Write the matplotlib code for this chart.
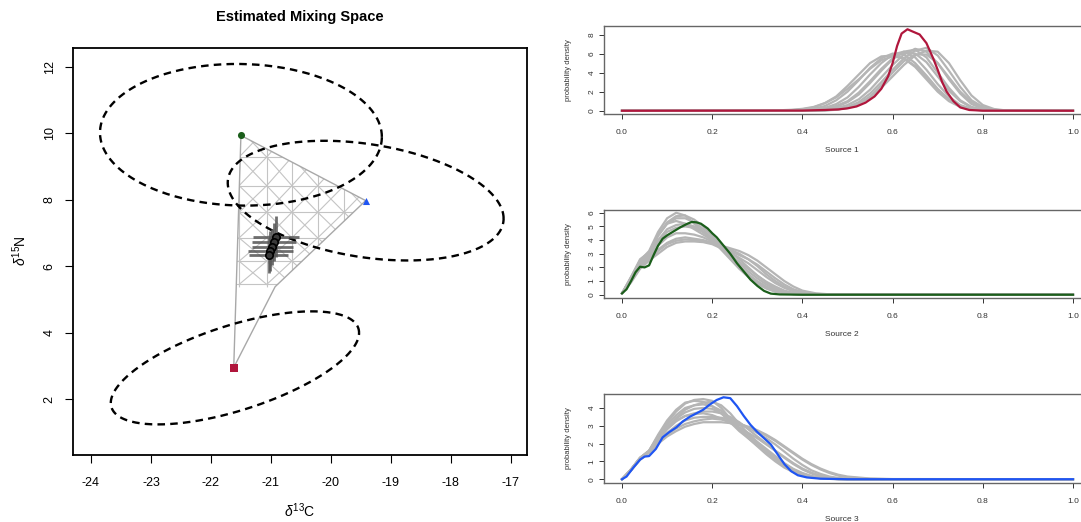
import numpy as np
import matplotlib
matplotlib.use('Agg')
import matplotlib.pyplot as plt
from matplotlib.patches import Polygon

plt.rcParams['font.family'] = ['Liberation Sans', 'DejaVu Sans']
plt.rcParams['mathtext.fontset'] = 'custom'
plt.rcParams['mathtext.rm'] = 'Liberation Sans'
plt.rcParams['mathtext.it'] = 'Liberation Sans:italic'
plt.rcParams['axes.unicode_minus'] = False

# ---------------- Mixing space data ----------------
source_names = ['Source 1', 'Source 2', 'Source 3']
source_colors = ['#b0163c', '#1b5e1b', '#1f55f2']
source_markers = ['s', 'o', '^']
src_d13C = [-21.62, -21.50, -19.42]
src_d15N = [2.95, 9.93, 7.97]
# source ellipses (centre, half-widths, correlation)
ell_cx = [-21.60, -21.50, -19.42]
ell_cy = [2.94, 9.95, 7.97]
ell_sx = [2.07, 2.35, 2.30]
ell_sy = [1.70, 2.13, 1.80]
ell_rho = [0.62, -0.03, -0.30]

# outer hull of simulated mixing polygons
hull_d13C = [-21.50, -19.42, -20.93, -21.62]
hull_d15N = [9.93, 7.97, 5.38, 2.95]
# meshed region of simulated polygons
mesh_clip_d13C = [-21.50, -19.42, -20.93, -21.58]
mesh_clip_d15N = [9.93, 7.97, 5.36, 5.36]
mesh_rows = [9.28, 8.42, 7.62, 6.85, 6.15, 5.45]
mesh_cols = [-21.53, -21.07, -20.65, -20.22, -19.78, -19.35]

# consumers
cons_d13C = [-20.92, -20.95, -20.98, -21.01, -21.04]
cons_d15N = [6.88, 6.72, 6.58, 6.45, 6.32]
cons_sd13C = [0.38, 0.36, 0.34, 0.38, 0.32]
cons_sd15N = [0.62, 0.58, 0.55, 0.60, 0.52]

# ---------------- Density data ----------------
x_s1 = [0.0, 0.35, 0.375, 0.4, 0.425, 0.45, 0.475, 0.5, 0.525, 0.55, 0.575, 0.6,
        0.625, 0.65, 0.675, 0.7, 0.725, 0.75, 0.775, 0.8, 0.825, 0.85, 1.0]
gray_s1 = [
    [0, 0.02, 0.05, 0.15, 0.35, 0.8, 1.5, 2.6, 3.8, 5.0, 5.7, 5.8, 5.5, 4.6, 3.3, 2.0, 1.0, 0.4, 0.12, 0.03, 0.01, 0, 0],
    [0, 0, 0.02, 0.08, 0.2, 0.5, 1.1, 2.0, 3.2, 4.5, 5.5, 6.0, 5.9, 5.0, 3.7, 2.3, 1.2, 0.5, 0.15, 0.04, 0.01, 0, 0],
    [0, 0, 0.01, 0.04, 0.12, 0.3, 0.7, 1.4, 2.5, 3.8, 5.0, 5.9, 6.2, 5.6, 4.3, 2.8, 1.5, 0.6, 0.2, 0.05, 0.01, 0, 0],
    [0, 0, 0, 0.02, 0.06, 0.15, 0.4, 0.9, 1.7, 2.9, 4.2, 5.4, 6.2, 6.4, 5.6, 4.0, 2.4, 1.1, 0.4, 0.12, 0.03, 0, 0],
    [0, 0, 0, 0.01, 0.03, 0.08, 0.25, 0.6, 1.2, 2.2, 3.5, 4.8, 5.9, 6.5, 6.2, 5.0, 3.3, 1.8, 0.7, 0.22, 0.06, 0.01, 0],
    [0, 0, 0, 0, 0.02, 0.05, 0.15, 0.4, 0.9, 1.8, 3.0, 4.3, 5.5, 6.3, 6.6, 5.8, 4.2, 2.5, 1.1, 0.4, 0.1, 0.02, 0],
    [0, 0, 0, 0, 0.01, 0.03, 0.1, 0.3, 0.7, 1.4, 2.4, 3.6, 4.8, 5.8, 6.3, 6.2, 5.0, 3.2, 1.6, 0.6, 0.18, 0.04, 0],
    [0, 0, 0, 0.01, 0.02, 0.05, 0.12, 0.3, 0.7, 1.5, 2.7, 4.0, 5.2, 5.9, 5.9, 5.0, 3.5, 2.0, 0.9, 0.3, 0.08, 0.02, 0],
    [0, 0.05, 0.1, 0.2, 0.4, 0.8, 1.4, 2.3, 3.3, 4.4, 5.3, 5.7, 5.5, 4.7, 3.5, 2.2, 1.2, 0.5, 0.2, 0.06, 0.02, 0, 0],
    [0, 0, 0.01, 0.03, 0.08, 0.2, 0.5, 1.0, 1.9, 3.1, 4.4, 5.5, 6.1, 6.0, 5.1, 3.6, 2.1, 1.0, 0.35, 0.1, 0.03, 0, 0],
]
x_s1_post = [0.0, 0.40, 0.45, 0.48, 0.50, 0.52, 0.54, 0.56, 0.575, 0.59, 0.60, 0.61, 0.62,
             0.633, 0.645, 0.66, 0.675, 0.69, 0.70, 0.71, 0.72, 0.735, 0.75, 0.77, 0.80, 1.0]
y_s1_post = [0, 0.02, 0.08, 0.14, 0.25, 0.45, 0.85, 1.5, 2.3, 3.6, 5.0, 6.8, 8.1,
             8.55, 8.3, 8.0, 7.1, 5.5, 4.3, 3.0, 2.0, 1.0, 0.35, 0.08, 0.01, 0]

x_s2 = [0, 0.02, 0.04, 0.06, 0.08, 0.1, 0.12, 0.14, 0.16, 0.18, 0.2, 0.22, 0.24, 0.26,
        0.28, 0.3, 0.32, 0.34, 0.36, 0.38, 0.4, 0.43, 0.46, 0.5, 1.0]
gray_s2 = [
    [0.1, 1.3, 2.5, 3.2, 4.6, 5.6, 6.0, 5.8, 5.2, 4.6, 4.0, 3.3, 2.6, 1.9, 1.3, 0.8, 0.45, 0.22, 0.1, 0.04, 0.02, 0.01, 0, 0, 0],
    [0.1, 1.2, 2.4, 3.0, 4.3, 5.2, 5.6, 5.6, 5.3, 4.8, 4.1, 3.4, 2.7, 2.0, 1.4, 0.9, 0.5, 0.25, 0.12, 0.05, 0.02, 0.01, 0, 0, 0],
    [0.1, 1.1, 2.3, 2.8, 4.0, 4.8, 5.1, 5.2, 5.0, 4.6, 4.1, 3.6, 3.1, 2.6, 2.0, 1.4, 0.9, 0.5, 0.25, 0.1, 0.04, 0.01, 0, 0, 0],
    [0.1, 1.0, 2.1, 2.6, 3.3, 3.8, 4.1, 4.2, 4.1, 4.0, 3.8, 3.5, 3.3, 3.0, 2.6, 2.1, 1.5, 1.0, 0.6, 0.3, 0.15, 0.04, 0.01, 0, 0],
    [0.1, 0.9, 1.9, 2.5, 3.0, 3.5, 3.8, 3.9, 3.9, 3.85, 3.7, 3.4, 3.2, 2.9, 2.6, 2.2, 1.7, 1.2, 0.75, 0.4, 0.2, 0.06, 0.02, 0, 0],
    [0.1, 1.1, 2.2, 2.7, 3.6, 4.2, 4.5, 4.5, 4.4, 4.2, 3.9, 3.5, 3.1, 2.7, 2.3, 1.8, 1.3, 0.85, 0.5, 0.25, 0.1, 0.03, 0.01, 0, 0],
    [0.1, 1.2, 2.3, 2.9, 3.9, 4.6, 4.9, 5.0, 4.9, 4.6, 4.1, 3.5, 2.9, 2.4, 1.9, 1.4, 0.95, 0.6, 0.3, 0.14, 0.05, 0.02, 0, 0, 0],
    [0.1, 1.3, 2.6, 3.1, 4.4, 5.2, 5.4, 5.2, 4.8, 4.4, 4.0, 3.5, 2.9, 2.3, 1.7, 1.2, 0.75, 0.4, 0.2, 0.08, 0.03, 0.01, 0, 0, 0],
    [0.1, 1.0, 2.0, 2.5, 3.2, 3.7, 3.95, 4.05, 4.0, 3.9, 3.8, 3.6, 3.4, 3.2, 2.9, 2.5, 2.0, 1.5, 1.0, 0.6, 0.3, 0.1, 0.03, 0.01, 0],
    [0.1, 1.2, 2.4, 3.0, 4.4, 5.3, 5.75, 5.8, 5.5, 5.0, 4.3, 3.6, 2.8, 2.1, 1.5, 1.0, 0.6, 0.3, 0.15, 0.06, 0.02, 0.01, 0, 0, 0],
]
x_s2_post = [0, 0.01, 0.02, 0.03, 0.04, 0.05, 0.06, 0.07, 0.08, 0.09, 0.1, 0.115, 0.13, 0.145,
             0.155, 0.165, 0.175, 0.19, 0.2, 0.21, 0.225, 0.24, 0.255, 0.27, 0.285, 0.3,
             0.315, 0.33, 0.35, 0.4, 1.0]
y_s2_post = [0.1, 0.4, 1.0, 1.65, 2.05, 2.0, 2.15, 2.9, 3.6, 4.1, 4.35, 4.65, 4.95, 5.2,
             5.33, 5.3, 5.2, 4.85, 4.5, 4.2, 3.6, 3.0, 2.3, 1.7, 1.1, 0.65,
             0.28, 0.08, 0.02, 0.0, 0.0]

x_s3 = [0, 0.02, 0.04, 0.06, 0.08, 0.1, 0.12, 0.14, 0.16, 0.18, 0.2, 0.22, 0.24, 0.26,
        0.28, 0.3, 0.32, 0.34, 0.36, 0.38, 0.4, 0.42, 0.44, 0.46, 0.48, 0.5, 0.55, 0.6, 1.0]
gray_s3 = [
    [0, 0.55, 1.2, 1.6, 2.4, 3.2, 3.8, 4.25, 4.45, 4.5, 4.4, 4.0, 3.4, 2.8, 2.3, 1.85, 1.4, 1.0, 0.65, 0.4, 0.22, 0.12, 0.06, 0.03, 0.01, 0, 0, 0, 0],
    [0, 0.55, 1.2, 1.6, 2.5, 3.3, 3.9, 4.3, 4.4, 4.35, 4.1, 3.7, 3.2, 2.7, 2.3, 1.9, 1.5, 1.1, 0.75, 0.45, 0.25, 0.13, 0.06, 0.03, 0.01, 0, 0, 0, 0],
    [0, 0.5, 1.1, 1.5, 2.0, 2.4, 2.7, 2.95, 3.1, 3.2, 3.2, 3.2, 3.15, 3.05, 2.9, 2.7, 2.45, 2.15, 1.8, 1.45, 1.1, 0.8, 0.55, 0.35, 0.2, 0.1, 0.02, 0, 0],
    [0, 0.5, 1.15, 1.5, 2.1, 2.6, 3.0, 3.3, 3.45, 3.5, 3.5, 3.45, 3.35, 3.15, 2.9, 2.6, 2.3, 1.95, 1.55, 1.15, 0.8, 0.5, 0.3, 0.15, 0.07, 0.03, 0, 0, 0],
    [0, 0.55, 1.2, 1.55, 2.2, 2.8, 3.25, 3.55, 3.7, 3.8, 3.8, 3.7, 3.5, 3.2, 2.8, 2.4, 2.0, 1.6, 1.2, 0.85, 0.55, 0.32, 0.17, 0.08, 0.03, 0.01, 0, 0, 0],
    [0, 0.55, 1.2, 1.6, 2.4, 3.1, 3.6, 4.0, 4.15, 4.2, 4.1, 3.85, 3.4, 2.9, 2.4, 2.0, 1.6, 1.2, 0.85, 0.55, 0.32, 0.17, 0.08, 0.03, 0.01, 0, 0, 0, 0],
    [0, 0.5, 1.1, 1.5, 2.0, 2.5, 2.85, 3.1, 3.25, 3.35, 3.4, 3.35, 3.25, 3.1, 2.95, 2.75, 2.5, 2.2, 1.85, 1.5, 1.15, 0.85, 0.6, 0.4, 0.25, 0.15, 0.04, 0.01, 0],
    [0, 0.55, 1.2, 1.55, 2.3, 2.95, 3.4, 3.75, 3.95, 4.0, 3.95, 3.7, 3.3, 2.85, 2.4, 1.95, 1.5, 1.1, 0.75, 0.45, 0.25, 0.12, 0.05, 0.02, 0, 0, 0, 0, 0],
    [0, 0.55, 1.15, 1.55, 2.25, 2.85, 3.3, 3.55, 3.65, 3.7, 3.6, 3.4, 3.15, 2.9, 2.6, 2.3, 1.95, 1.6, 1.25, 0.9, 0.6, 0.37, 0.2, 0.1, 0.04, 0.01, 0, 0, 0],
    [0, 0.5, 1.15, 1.5, 2.2, 2.9, 3.45, 3.9, 4.15, 4.3, 4.35, 4.15, 3.7, 3.1, 2.55, 2.1, 1.7, 1.3, 0.9, 0.58, 0.35, 0.18, 0.08, 0.03, 0.01, 0, 0, 0, 0],
]
x_s3_post = [0, 0.01, 0.025, 0.04, 0.05, 0.06, 0.075, 0.09, 0.105, 0.12, 0.135, 0.15, 0.165,
             0.18, 0.195, 0.21, 0.225, 0.24, 0.255, 0.27, 0.285, 0.3, 0.315, 0.33, 0.345,
             0.36, 0.375, 0.39, 0.41, 0.44, 0.5, 1.0]
y_s3_post = [0.0, 0.15, 0.65, 1.1, 1.27, 1.3, 1.7, 2.35, 2.65, 2.9, 3.25, 3.5, 3.7,
             3.9, 4.2, 4.45, 4.6, 4.55, 4.1, 3.55, 3.05, 2.65, 2.3, 1.95, 1.4,
             0.85, 0.45, 0.22, 0.1, 0.03, 0.0, 0.0]

panel_x = [x_s1, x_s2, x_s3]
panel_gray = [gray_s1, gray_s2, gray_s3]
panel_post_x = [x_s1_post, x_s2_post, x_s3_post]
panel_post_y = [y_s1_post, y_s2_post, y_s3_post]
panel_yticks = [[0, 2, 4, 6, 8], [0, 1, 2, 3, 4, 5, 6], [0, 1, 2, 3, 4]]

# ---------------- Figure ----------------
W, H = 1081, 522
fig = plt.figure(figsize=(W / 100, H / 100), dpi=100)


def px_rect(left, top, right, bottom):
    return [left / W, 1 - bottom / H, (right - left) / W, (bottom - top) / H]


# Left: mixing space
ax = fig.add_axes(px_rect(73, 48, 527, 455))
ax.set_xlim(-24.3, -16.73)
ax.set_ylim(0.32, 12.56)

clip = Polygon(np.column_stack([mesh_clip_d13C, mesh_clip_d15N]), closed=True,
               transform=ax.transData, facecolor='none', edgecolor='none')
ax.add_patch(clip)
mesh_kw = dict(color='#c4c4c4', lw=0.8, zorder=1)
xlo, xhi = min(mesh_cols) - 0.5, max(mesh_cols) + 0.5
ylo, yhi = min(mesh_rows) - 0.5, max(mesh_rows) + 1.0
for r in mesh_rows:
    ln, = ax.plot([xlo, xhi], [r, r], **mesh_kw)
    ln.set_clip_path(clip)
for c in mesh_cols:
    ln, = ax.plot([c, c], [ylo, yhi], **mesh_kw)
    ln.set_clip_path(clip)
rows_ext = [mesh_rows[0] + (mesh_rows[0] - mesh_rows[1])] + mesh_rows
for j in range(len(rows_ext) - 1):
    for i in range(len(mesh_cols) - 1):
        for (a, b) in [((mesh_cols[i], rows_ext[j]), (mesh_cols[i + 1], rows_ext[j + 1])),
                       ((mesh_cols[i + 1], rows_ext[j]), (mesh_cols[i], rows_ext[j + 1]))]:
            ln, = ax.plot([a[0], b[0]], [a[1], b[1]], **mesh_kw)
            ln.set_clip_path(clip)

ax.plot(hull_d13C + hull_d13C[:1], hull_d15N + hull_d15N[:1], color='#a8a8a8', lw=1.0, zorder=2)

t = np.linspace(0, 2 * np.pi, 300)
for cx, cy, sx, sy, rho in zip(ell_cx, ell_cy, ell_sx, ell_sy, ell_rho):
    ex = cx + sx * np.cos(t)
    ey = cy + sy * (rho * np.cos(t) + np.sqrt(1 - rho ** 2) * np.sin(t))
    ax.plot(ex, ey, color='black', lw=1.7, linestyle=(0, (3.2, 2.2)), zorder=4)

ax.errorbar(cons_d13C, cons_d15N, xerr=cons_sd13C, yerr=cons_sd15N, fmt='none',
            ecolor='#555555', elinewidth=2.0, capsize=0, alpha=0.85, zorder=5)
ax.scatter(cons_d13C, cons_d15N, s=28, facecolor='#3a3a3a', edgecolor='black',
           linewidth=1.2, zorder=6)

for xs, ys, col, mk in zip(src_d13C, src_d15N, source_colors, source_markers):
    ax.scatter([xs], [ys], marker=mk, s=26, color=col, zorder=7, linewidth=0)

ax.set_xticks([-24, -23, -22, -21, -20, -19, -18, -17])
ax.set_yticks([2, 4, 6, 8, 10, 12])
ax.tick_params(direction='out', length=5.5, width=0.8, labelsize=9, pad=7)
ax.tick_params(axis='x', pad=10.5)
for lab in ax.get_yticklabels():
    lab.set_rotation(90)
    lab.set_va('center')
for s in ax.spines.values():
    s.set_linewidth(1.3)
fig.text(300 / W, 1 - 17.5 / H, 'Estimated Mixing Space', ha='center', va='center',
         fontsize=10.5, fontweight='bold')
fig.text(300 / W, 1 - 511 / H, r'$\delta^{13}$C', ha='center', va='center', fontsize=10)
fig.text(20 / W, 1 - 251 / H, r'$\delta^{15}$N', ha='center', va='center', fontsize=10,
         rotation=90)

# Right: density panels
panel_px = [(26, 114), (209.5, 298), (394, 482.5)]
for k in range(3):
    top, bot = panel_px[k]
    a = fig.add_axes(px_rect(604, top, 1091, bot))
    for g in panel_gray[k]:
        a.plot(panel_x[k], g, color='#b5b5b5', lw=1.6, zorder=2)
    a.plot(panel_post_x[k], panel_post_y[k], color=source_colors[k], lw=1.6, zorder=3)
    ymax = max(max(max(g) for g in panel_gray[k]), max(panel_post_y[k]))
    a.set_xlim(-0.04, 1.04)
    a.set_ylim(-0.04 * ymax, 1.04 * ymax)
    a.set_xticks([0, 0.2, 0.4, 0.6, 0.8, 1.0])
    a.set_xticklabels(['0.0', '0.2', '0.4', '0.6', '0.8', '1.0'])
    a.set_yticks(panel_yticks[k])
    a.tick_params(direction='out', length=3.5, width=0.7, labelsize=6, pad=7.5, colors='#333333')
    a.tick_params(axis='y', pad=2.5)
    for lab in a.get_yticklabels():
        lab.set_rotation(90)
        lab.set_va('center')
    for s in a.spines.values():
        s.set_linewidth(1.0)
        s.set_color('#666666')
    fig.text(842 / W, 1 - (bot + 37) / H, source_names[k], ha='center', va='center',
             fontsize=6, color='#333333')
    fig.text(568 / W, 1 - (top + bot) / 2 / H, 'probability density', ha='center',
             va='center', fontsize=5.5, rotation=90, color='#333333')

fig.savefig('out.png', dpi=100)
